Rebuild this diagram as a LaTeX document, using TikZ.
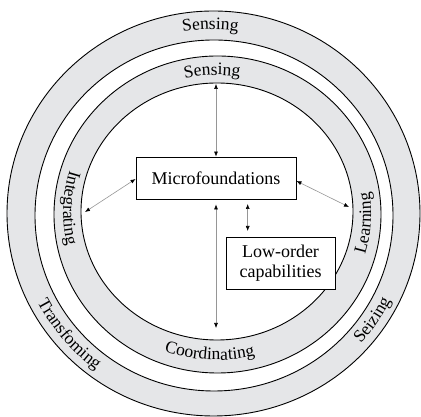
\documentclass[tikz,border=0pt]{standalone}
\usepackage{fontspec}
\setmainfont{Liberation Serif}
\usetikzlibrary{decorations.text,arrows.meta}
\definecolor{ringgray}{RGB}{229,230,232}
\definecolor{linkgray}{RGB}{150,150,150}
\newcommand\ringfont{\fontsize{17.5}{20}\selectfont}
\newcommand\boxfont{\fontsize{18}{20}\selectfont}
\tikzset{
  ringline/.style={draw=black, line width=0.9pt},
  ringlabel/.style={decorate, decoration={text along path, text align=center, text={|\ringfont|#1}}},
  box/.style={draw=black, line width=0.9pt, fill=white, font=\boxfont, inner sep=0pt, align=center},
  link/.style={draw=linkgray, line width=0.6pt, {Latex[length=5pt,width=4pt,color=black]}-{Latex[length=5pt,width=4pt,color=black]}},
}
\begin{document}
\begin{tikzpicture}[x=1pt,y=1pt]
\useasboundingbox (0,0) rectangle (421,417);
% ellipse centres
\coordinate (o1) at (213.5,203.5);
\coordinate (o2) at (214,201.5);
\coordinate (i1) at (217.5,202.5);
\coordinate (i2) at (217,205.5);
\coordinate (co) at (213.7,202.5);
\coordinate (ci) at (217.2,204);
% rings
\fill[ringgray, even odd rule] (o1) ellipse[x radius=206.5pt, y radius=202.5pt] (o2) ellipse[x radius=179pt, y radius=175.5pt];
\fill[ringgray, even odd rule] (i1) ellipse[x radius=163.5pt, y radius=158.5pt] (i2) ellipse[x radius=136pt, y radius=128.5pt];
\draw[ringline] (o1) ellipse[x radius=206.5pt, y radius=202.5pt];
\draw[ringline] (o2) ellipse[x radius=179pt, y radius=175.5pt];
\draw[ringline] (i1) ellipse[x radius=163.5pt, y radius=158.5pt];
\draw[ringline] (i2) ellipse[x radius=136pt, y radius=128.5pt];
% outer ring labels
\path[ringlabel=Sensing] ([shift={(131:188pt and 185pt)}]co) arc[start angle=131, end angle=51, x radius=188pt, y radius=185pt];
\path[ringlabel=Transfoming] ([shift={(185:197.5pt and 193.5pt)}]co) arc[start angle=185, end angle=255, x radius=197.5pt, y radius=193.5pt];
\path[ringlabel=Seizing] ([shift={(296:197.5pt and 193.5pt)}]co) arc[start angle=296, end angle=356, x radius=197.5pt, y radius=193.5pt];
% inner ring labels
\path[ringlabel=Sensing] ([shift={(132:144pt and 138pt)}]ci) arc[start angle=132, end angle=52, x radius=144pt, y radius=138pt];
\path[ringlabel=Integrating] ([shift={(138:154pt and 147pt)}]ci) arc[start angle=138, end angle=218, x radius=154pt, y radius=147pt];
\path[ringlabel=Learning] ([shift={(-44:154pt and 147pt)}]ci) arc[start angle=-44, end angle=36, x radius=154pt, y radius=147pt];
\path[ringlabel=Coordinating] ([shift={(227:154pt and 147pt)}]ci) arc[start angle=227, end angle=307, x radius=154pt, y radius=147pt];
% boxes
\node[box, minimum width=160pt, minimum height=42pt] (micro) at (216,239) {Microfoundations};
\node[box, minimum width=109pt, minimum height=52pt] (low) at (280.5,154) {Low-order\\capabilities};
% connector ends
\coordinate (topend) at (216,333);
\coordinate (leftend) at (85,205);
\coordinate (rightend) at (349,210);
\coordinate (botend) at (216,89);
\coordinate (shorttop) at (247.7,213);
\coordinate (shortbot) at (247.7,186);
% connectors
\draw[link] (topend) -- (micro.north);
\draw[link] ([yshift=-1pt]micro.west) -- (leftend);
\draw[link] ([yshift=-3pt]micro.east) -- (rightend);
\draw[link] ([yshift=-5pt]micro.south) -- (botend);
\draw[link] (shorttop) -- (shortbot);
\end{tikzpicture}
\end{document}
